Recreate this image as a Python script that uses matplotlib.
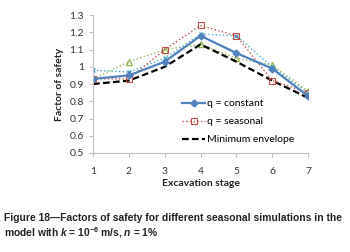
import matplotlib
matplotlib.use("Agg")
import matplotlib.pyplot as plt

stages = [1, 2, 3, 4, 5, 6, 7]
q_constant = [0.93, 0.95, 1.03, 1.18, 1.08, 0.99, 0.83]
q_seasonal = [0.93, 0.93, 1.10, 1.24, 1.18, 0.92, 0.85]
q_teal = [0.98, 0.97, 1.05, 1.19, 1.18, 1.00, 0.85]
q_olive = [0.93, 1.03, 1.10, 1.13, 1.05, 1.01, 0.86]
min_envelope = [0.90, 0.92, 1.00, 1.13, 1.03, 0.92, 0.82]
y_ticks = [0.5, 0.6, 0.7, 0.8, 0.9, 1.0, 1.1, 1.2, 1.3]
y_ticklabels = ["0.5", "0.6", "0.7", "0.8", "0.9", "1", "1.1", "1.2", "1.3"]

plt.rcParams['font.family'] = ['Lato', 'DejaVu Sans']
plt.rcParams['mathtext.fontset'] = 'custom'
plt.rcParams['mathtext.rm'] = 'Liberation Sans:bold'
plt.rcParams['mathtext.it'] = 'Liberation Sans:italic:bold'
plt.rcParams['mathtext.bf'] = 'Liberation Sans:bold'

fig = plt.figure(figsize=(3.5, 2.52), dpi=100)
ax = fig.add_axes([0.266, 0.393, 0.614, 0.547])

ax.plot(stages, q_olive, color='#9BBB59', linestyle=':', lw=1.0,
        marker='^', markersize=4, markerfacecolor='none')
ax.plot(stages, q_teal, color='#4BACC6', linestyle=':', lw=1.0,
        marker='x', markersize=3.5)
ax.plot(stages, min_envelope, color='black', linestyle=(0, (3, 1.5)), lw=1.6,
        label='Minimum envelope')
ax.plot(stages, q_seasonal, color='#C0504D', linestyle=':', lw=1.0,
        marker='s', markersize=5, markerfacecolor='none', markeredgewidth=0.8,
        label='q = seasonal')
ax.plot(stages, q_constant, color='#4F81BD', linestyle='-', lw=1.6,
        marker='D', markersize=3.5, label='q = constant')

ax.set_xlim(1, 7)
ax.set_ylim(0.5, 1.3)
ax.set_xticks(stages)
ax.set_yticks(y_ticks)
ax.set_yticklabels(y_ticklabels)

for s in ['top', 'right']:
    ax.spines[s].set_visible(False)
for s in ['left', 'bottom']:
    ax.spines[s].set_color('#BFBFBF')
    ax.spines[s].set_linewidth(0.8)
ax.tick_params(axis='both', colors='#BFBFBF', length=3, width=0.8,
               labelsize=7.5, labelcolor='#333333')
ax.tick_params(axis='x', pad=7)

ax.set_xlabel('Excavation stage', fontsize=7.5, fontweight='bold', color='#222222', labelpad=2)
ax.set_ylabel('Factor of safety', fontsize=7.5, fontweight='bold', color='#222222', labelpad=4)

handles, labels = ax.get_legend_handles_labels()
order = [2, 1, 0]
ax.legend([handles[i] for i in order], [labels[i] for i in order],
          loc='upper left', bbox_to_anchor=(0.39, 0.43), frameon=False,
          fontsize=7.5, handlelength=2.2, handletextpad=0.2, labelspacing=0.85,
          borderpad=0)

fig.text(0.01, 0.135, 'Figure 18\u2014Factors of safety for different seasonal simulations in the',
         family='Liberation Sans', fontweight='bold', fontsize=7.4, color='#222222',
         va='center')
fig.text(0.01, 0.075, 'model with $\\mathit{k}$ = 10$^{-6}$ m/s, $\\mathit{n}$ = 1%',
         family='Liberation Sans', fontweight='bold', fontsize=7.4, color='#222222',
         va='center')

fig.savefig('out.png', dpi=100)
